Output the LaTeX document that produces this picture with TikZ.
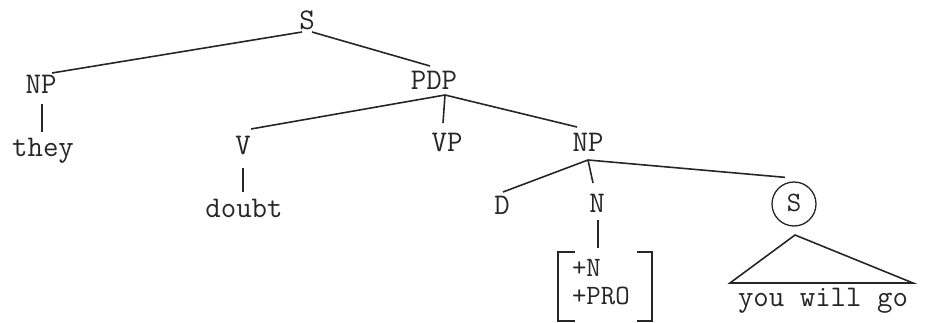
\documentclass[tikz,border=0pt]{standalone}
\begin{document}
\begin{tikzpicture}[x=1pt,y=1pt,
  ink/.style={draw=black!85, line width=1.6pt},
  lbl/.style={font=\ttfamily\fontsize{30}{30}\selectfont, text=black!85, inner sep=0pt, outer sep=0pt, text height=15pt, text depth=0pt, anchor=base},
  feat/.style={font=\ttfamily\fontsize{28}{28}\selectfont, text=black!85, inner sep=0pt, outer sep=0pt, text height=14pt, text depth=0pt, anchor=base west},
  circ/.style={draw=black!85, line width=1.3pt, circle, minimum size=44pt, inner sep=0pt, font=\ttfamily\fontsize{28}{28}\selectfont, text=black!85, text height=15pt, text depth=0pt}]
\useasboundingbox (0,0) rectangle (927,-323);
% nodes
\node[lbl] (S) at (307,-30) {S};
\node[lbl] (NPa) at (41,-94) {NP};
\node[lbl] (they) at (43,-157) {they};
\node[lbl] (PDP) at (434,-90) {PDP};
\node[lbl] (V) at (243,-155) {V};
\node[lbl] (VP) at (447,-152) {VP};
\node[lbl] (doubt) at (244,-218) {doubt};
\node[lbl] (NPb) at (588,-152) {NP};
\node[lbl] (D) at (502,-215) {D};
\node[lbl] (N) at (597,-213) {N};
\node[circ] (Sc) at (794,-204) {S};
\node[feat] (fN) at (572,-277) {+N};
\node[feat] (fPRO) at (572,-305) {+PRO};
\node[lbl] (ywg) at (823,-307) {you will go};
\coordinate (Ftop) at (598,-248);
\coordinate (apex) at (795,-235);
\coordinate (tl) at (730,-283);
\coordinate (tr) at (913,-283);
% connectors
\draw[ink] ([shift={(-5,-2)}]S.south) -- ([shift={(11,6)}]NPa.north);
\draw[ink] ([shift={(5,-2)}]S.south) -- ([shift={(-4,9)}]PDP.north);
\draw[ink] ([shift={(1,-10)}]NPa.south) -- ([shift={(-1,10)}]they.north);
\draw[ink] ([shift={(11,-5)}]PDP.south) -- ([shift={(8,11)}]V.north);
\draw[ink] ([shift={(11,-5)}]PDP.south) -- ([shift={(-4,14)}]VP.north);
\draw[ink] ([shift={(11,-5)}]PDP.south) -- ([shift={(-11,10)}]NPb.north);
\draw[ink] ([shift={(0,-13)}]V.south) -- ([shift={(-1,11)}]doubt.north);
\draw[ink] ([shift={(0,-8)}]NPb.south) -- ([shift={(1,8)}]D.north);
\draw[ink] ([shift={(0,-8)}]NPb.south) -- ([shift={(-4,15)}]N.north);
\draw[ink] ([shift={(0,-8)}]NPb.south) -- ([shift={(-9,4)}]Sc.north);
\draw[ink] ([shift={(1,-7)}]N.south) -- (Ftop);
% feature bracket
\draw[ink] (575,-252) -- (558,-252) -- (558,-321) -- (575,-321);
\draw[ink] (637,-252) -- (652,-252) -- (652,-321) -- (637,-321);
% triangle
\draw[ink, line join=miter] (apex) -- (tl) -- (tr) -- cycle;
\end{tikzpicture}
\end{document}
